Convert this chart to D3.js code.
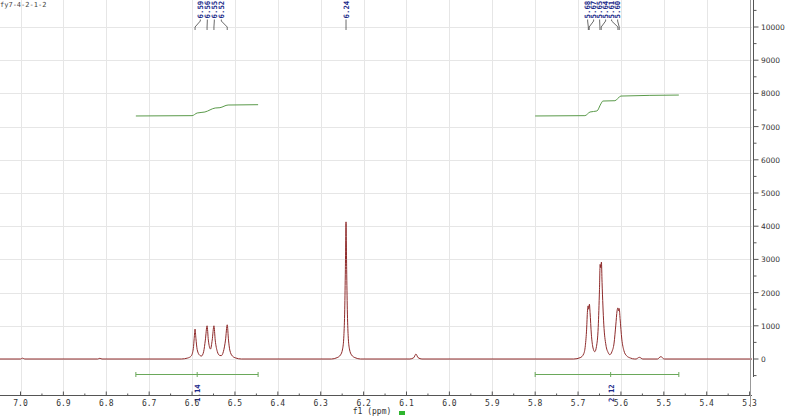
<!DOCTYPE html>
<html>
<head>
<meta charset="utf-8">
<script src="https://d3js.org/d3.v7.min.js"></script>
<style>
body{margin:0;background:#fff;}
svg{display:block;}
.grid line{stroke:#e6e6e6;stroke-width:1;}
.lbl{font-family:"DejaVu Sans Mono",monospace;font-size:8px;fill:#333;}
.ylbl{font-family:"DejaVu Sans",sans-serif;font-size:7.5px;fill:#333;}
.peak{font-family:"DejaVu Sans Mono",monospace;font-size:7.4px;fill:#1c2a8a;font-weight:bold;}
</style>
</head>
<body>
<script>
var width = 800, height = 418;

// axis ticks
var ppmTicks  = [7.0,6.9,6.8,6.7,6.6,6.5,6.4,6.3,6.2,6.1,6.0,5.9,5.8,5.7,5.6,5.5,5.4,5.3];
var ppmLabels = ["7.0","6.9","6.8","6.7","6.6","6.5","6.4","6.3","6.2","6.1","6.0","5.9","5.8","5.7","5.6","5.5","5.4","5.3"];
var intTicks  = [0,1000,2000,3000,4000,5000,6000,7000,8000,9000,10000];
var intLabels = ["0","1000","2000","3000","4000","5000","6000","7000","8000","9000","10000"];

// spectrum [ppm, intensity]
var spectrum = [
  [7.05,0],[7.000,0],[6.995,25],[6.990,0],[6.820,0],[6.815,20],[6.810,0],
  [6.625,0],[6.610,30],[6.602,90],[6.597,320],[6.595,620],[6.593,900],[6.591,620],[6.588,280],[6.582,110],
  [6.578,90],[6.573,220],[6.569,570],[6.565,1000],[6.562,570],[6.557,300],[6.553,570],
  [6.549,1000],[6.546,570],[6.541,220],[6.536,110],[6.532,100],[6.527,220],[6.522,570],
  [6.518,1030],[6.515,570],[6.512,270],[6.506,90],[6.498,30],[6.485,0],
  [6.275,0],[6.262,40],[6.254,120],[6.249,300],[6.246,700],[6.244,1500],[6.2425,2700],[6.241,4130],
  [6.2395,2700],[6.238,1500],[6.236,700],[6.233,300],[6.228,120],[6.220,40],[6.207,0],
  [6.092,0],[6.083,40],[6.078,150],[6.073,40],[6.064,0],
  [5.710,0],[5.695,40],[5.687,150],[5.683,400],[5.680,900],[5.678,1450],[5.6765,1600],[5.675,1500],
  [5.6735,1650],[5.672,1400],[5.669,750],[5.665,330],[5.661,220],[5.657,380],[5.653,950],
  [5.650,2100],[5.6485,2850],[5.647,2750],[5.6455,2920],[5.644,2300],[5.640,1050],[5.635,420],
  [5.630,200],[5.626,130],[5.621,220],[5.616,480],[5.612,1020],[5.609,1450],[5.607,1540],
  [5.6055,1450],[5.604,1520],[5.602,1220],[5.598,600],[5.593,250],[5.587,100],[5.578,30],[5.568,0],
  [5.565,0],[5.557,50],[5.549,0],[5.515,0],[5.507,70],[5.499,0],[5.28,0]
];

// integral curves [ppm, value on intensity scale]
var integral1 = [[6.731,7320],[6.600,7330],[6.588,7410],[6.570,7440],[6.546,7560],[6.535,7570],[6.516,7650],[6.446,7660]];
var integral2 = [[5.800,7320],[5.684,7330],[5.672,7440],[5.656,7470],[5.647,7680],[5.642,7770],[5.614,7780],[5.600,7920],[5.465,7950]];
var intBars = [{from:6.731,to:6.446,mid:6.588,text:"1.14"},{from:5.800,to:5.465,mid:5.624,text:"2.12"}];

// peak labels
var peakGroup1 = {labels:["6.59","6.56","6.55","6.52"], pos:[6.593,6.565,6.549,6.518]};
var peakGroup2 = {labels:["5.68","5.67","5.65","5.64","5.61","5.60"], pos:[5.676,5.674,5.649,5.646,5.607,5.604]};
var peakGroup3 = {labels:["6.24"], pos:[6.241]};

var x = d3.scaleLinear().domain([7.0,5.3]).range([20.5,749.6]);
var y = d3.scaleLinear().domain([0,10000]).range([359,27]);

var svg = d3.select("body").append("svg").attr("width",width).attr("height",height);

svg.append("defs").append("clipPath").attr("id","plot")
   .append("rect").attr("x",0).attr("y",0).attr("width",752).attr("height",395);

// grid
var grid = svg.append("g").attr("class","grid");
grid.selectAll("line.v").data(ppmTicks).enter().append("line")
    .attr("x1",function(d){return Math.round(x(d))+0.5;}).attr("x2",function(d){return Math.round(x(d))+0.5;})
    .attr("y1",0).attr("y2",395);
grid.selectAll("line.h").data(intTicks).enter().append("line")
    .attr("x1",0).attr("x2",752)
    .attr("y1",function(d){return Math.round(y(d))+0.5;}).attr("y2",function(d){return Math.round(y(d))+0.5;});

var plot = svg.append("g").attr("clip-path","url(#plot)");

// spectrum
var line = d3.line().x(function(d){return x(d[0]);}).y(function(d){return y(d[1]);}).curve(d3.curveMonotoneX);
plot.append("path").datum(spectrum.slice().reverse())
    .attr("d",line).attr("fill","none").attr("stroke","#8e2a2a").attr("stroke-width",1);

// integrals
[integral1,integral2].forEach(function(c){
  plot.append("path").datum(c.slice().reverse()).attr("d",line)
      .attr("fill","none").attr("stroke","#5a9a4a").attr("stroke-width",1);
});

// integration bars
var barY = 374.5;
intBars.forEach(function(b){
  var g = svg.append("g");
  g.append("line").attr("x1",x(b.from)).attr("x2",x(b.to)).attr("y1",barY).attr("y2",barY)
   .attr("stroke","#6aa85a").attr("stroke-width",1);
  [b.from,b.to,b.mid].forEach(function(p){
    g.append("line").attr("x1",x(p)).attr("x2",x(p)).attr("y1",barY-2.5).attr("y2",barY+2.5)
     .attr("stroke","#6aa85a").attr("stroke-width",1);
  });
  g.append("text").attr("class","peak")
   .attr("transform","translate("+(x(b.mid)+3)+","+402+") rotate(-90)")
   .text(b.text);
});

// x axis
var xAxisY = 395.5;
svg.append("line").attr("x1",0).attr("x2",752).attr("y1",xAxisY).attr("y2",xAxisY).attr("stroke","#555");
var minor = d3.range(0,35).map(function(i){return 7.0-i*0.05;});
svg.selectAll("line.xt").data(minor).enter().append("line")
   .attr("x1",function(d){return x(d);}).attr("x2",function(d){return x(d);})
   .attr("y1",xAxisY).attr("y2",function(d,i){return i%2==0?xAxisY-4:xAxisY-2;})
   .attr("stroke","#555");
svg.selectAll("text.xl").data(ppmTicks).enter().append("text").attr("class","lbl")
   .attr("x",function(d){return x(d);}).attr("y",406).attr("text-anchor","middle")
   .text(function(d,i){return ppmLabels[i];});
svg.append("text").attr("class","lbl").attr("x",372).attr("y",413.5).attr("text-anchor","middle").text("f1 (ppm)");
svg.append("rect").attr("x",399).attr("y",411).attr("width",6).attr("height",4).attr("fill","#2fb52f");

// y axis (right)
var yAxisX = 753.5;
svg.append("line").attr("x1",yAxisX-3).attr("x2",yAxisX-3).attr("y1",0).attr("y2",407).attr("stroke","#999");
svg.append("line").attr("x1",yAxisX).attr("x2",yAxisX).attr("y1",0).attr("y2",377).attr("stroke","#555");
var yminor = d3.range(-1,22).map(function(i){return i*500;});
svg.selectAll("line.yt").data(yminor).enter().append("line")
   .attr("x1",yAxisX).attr("x2",function(d){return d%1000==0?yAxisX+5:yAxisX+3;})
   .attr("y1",function(d){return y(d);}).attr("y2",function(d){return y(d);})
   .attr("stroke","#555");
svg.selectAll("text.yl").data(intTicks).enter().append("text").attr("class","ylbl")
   .attr("x",761).attr("y",function(d){return y(d)+3;})
   .text(function(d,i){return intLabels[i];});

// peak labels at top
function peakLabels(grp, spacing){
  var n = grp.labels.length;
  var cx = d3.mean(grp.pos, function(p){return x(p);});
  grp.labels.forEach(function(t,i){
    var lx = cx + (i-(n-1)/2)*spacing;
    var px = x(grp.pos[i]);
    svg.append("text").attr("class","peak")
       .attr("transform","translate("+(lx+2.8)+",18.5) rotate(-90)").text(t);
    svg.append("path").attr("d","M"+lx+",19.5 L"+lx+",21 L"+px+",27 L"+px+",30")
       .attr("fill","none").attr("stroke","#444").attr("stroke-width",0.8);
  });
}
peakLabels(peakGroup1,7);
peakLabels(peakGroup2,6);
peakLabels(peakGroup3,6);

// title fragment at top left
svg.append("text").attr("x",0).attr("y",6.5).attr("font-family","DejaVu Sans Mono").attr("font-size","7px")
   .attr("fill","#444").text("fy7-4-2-1-2");
</script>
</body>
</html>
